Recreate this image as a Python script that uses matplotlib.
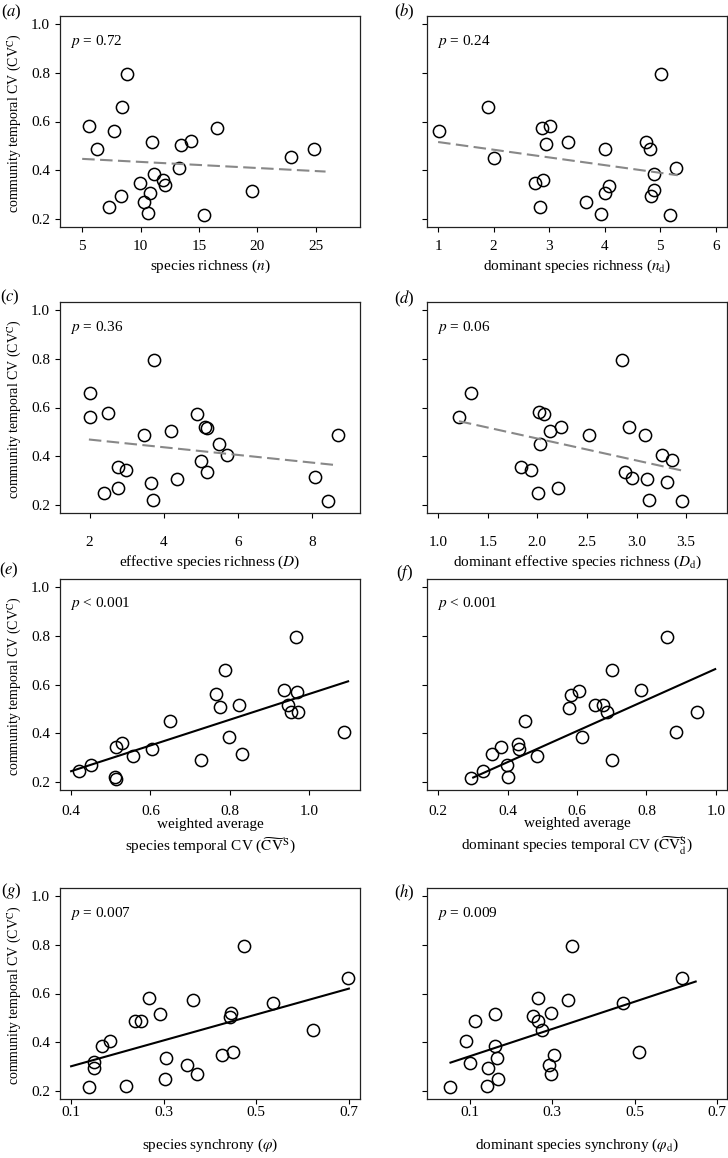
import numpy as np
import matplotlib
matplotlib.use("Agg")
import matplotlib.pyplot as plt
from matplotlib.ticker import FixedLocator, FixedFormatter

plt.rcParams['font.family'] = 'serif'
plt.rcParams['font.serif'] = ['Liberation Serif', 'DejaVu Serif']
plt.rcParams['mathtext.fontset'] = 'stix'

# ---------------- data ----------------
y_ticks = [0.2, 0.4, 0.6, 0.8, 1.0]
y_ticklabels = ['0.2', '0.4', '0.6', '0.8', '1.0']

a_x = [5.6, 6.28, 7.31, 7.71, 8.33, 8.45, 8.87, 9.93, 10.3, 10.81, 10.64, 10.98, 11.15, 11.92, 12.12, 13.29, 13.46, 14.34, 15.43, 16.51, 19.56, 22.89, 24.89]
a_y = [0.580, 0.487, 0.248, 0.561, 0.293, 0.661, 0.795, 0.347, 0.271, 0.308, 0.226, 0.518, 0.385, 0.360, 0.340, 0.408, 0.505, 0.521, 0.219, 0.575, 0.315, 0.454, 0.487]
a_fit_x = [5.0, 25.85]
a_fit_y = [0.447, 0.395]

b_x = [1.01, 1.89, 2.00, 2.75, 2.88, 2.87, 3.01, 2.94, 2.84, 3.33, 3.67, 3.94, 4.01, 4.00, 4.07, 4.74, 4.81, 4.88, 4.88, 4.84, 5.01, 5.17, 5.28]
b_y = [0.562, 0.661, 0.452, 0.347, 0.360, 0.573, 0.580, 0.506, 0.248, 0.518, 0.271, 0.223, 0.488, 0.308, 0.337, 0.518, 0.488, 0.387, 0.318, 0.293, 0.795, 0.219, 0.408]
b_fit_x = [1.0, 5.31]
b_fit_y = [0.516, 0.380]

c_x = [2.0, 2.0, 2.49, 2.40, 2.76, 2.98, 2.76, 3.47, 3.74, 3.66, 3.72, 4.20, 4.35, 4.91, 5.11, 5.17, 5.02, 5.16, 5.49, 5.72, 8.08, 8.44, 8.71]
c_y = [0.660, 0.561, 0.579, 0.248, 0.358, 0.344, 0.269, 0.488, 0.794, 0.292, 0.222, 0.505, 0.306, 0.572, 0.520, 0.517, 0.382, 0.334, 0.452, 0.407, 0.314, 0.218, 0.487]
c_fit_x = [1.98, 8.6]
c_fit_y = [0.469, 0.365]

d_x = [1.211, 1.328, 2.015, 2.066, 2.123, 2.243, 2.032, 1.838, 1.932, 2.009, 2.207, 2.518, 2.857, 2.927, 3.081, 2.883, 2.951, 3.105, 3.128, 3.255, 3.362, 3.305, 3.456]
d_y = [0.562, 0.661, 0.580, 0.573, 0.504, 0.520, 0.452, 0.358, 0.346, 0.248, 0.269, 0.488, 0.796, 0.520, 0.489, 0.335, 0.313, 0.307, 0.222, 0.407, 0.385, 0.294, 0.218]
d_fit_x = [1.21, 3.49]
d_fit_y = [0.544, 0.339]

e_x = [0.420, 0.450, 0.510, 0.514, 0.514, 0.529, 0.557, 0.603, 0.648, 0.727, 0.764, 0.776, 0.789, 0.799, 0.823, 0.831, 0.937, 0.946, 0.953, 0.969, 0.972, 0.966, 1.088]
e_y = [0.245, 0.269, 0.221, 0.215, 0.346, 0.360, 0.307, 0.335, 0.452, 0.291, 0.561, 0.506, 0.660, 0.383, 0.517, 0.314, 0.579, 0.517, 0.486, 0.571, 0.486, 0.795, 0.407]
e_fit_x = [0.40, 1.098]
e_fit_y = [0.245, 0.613]

f_x = [0.295, 0.330, 0.354, 0.380, 0.399, 0.401, 0.429, 0.434, 0.451, 0.484, 0.576, 0.584, 0.605, 0.613, 0.652, 0.675, 0.687, 0.702, 0.702, 0.785, 0.858, 0.885, 0.945]
f_y = [0.218, 0.245, 0.314, 0.346, 0.270, 0.222, 0.356, 0.335, 0.452, 0.307, 0.504, 0.559, 0.575, 0.385, 0.518, 0.518, 0.488, 0.660, 0.291, 0.579, 0.795, 0.407, 0.488]
f_fit_x = [0.301, 0.998]
f_fit_y = [0.219, 0.663]

g_x = [0.138, 0.150, 0.150, 0.167, 0.184, 0.218, 0.238, 0.251, 0.269, 0.292, 0.302, 0.306, 0.351, 0.364, 0.373, 0.426, 0.446, 0.444, 0.449, 0.474, 0.536, 0.622, 0.697]
g_y = [0.218, 0.318, 0.293, 0.383, 0.404, 0.222, 0.488, 0.488, 0.580, 0.518, 0.248, 0.337, 0.307, 0.574, 0.271, 0.347, 0.521, 0.505, 0.360, 0.794, 0.561, 0.452, 0.662]
g_fit_x = [0.10, 0.70]
g_fit_y = [0.302, 0.620]

h_x = [0.051, 0.090, 0.100, 0.113, 0.142, 0.145, 0.160, 0.161, 0.165, 0.169, 0.254, 0.266, 0.266, 0.275, 0.296, 0.292, 0.298, 0.305, 0.339, 0.349, 0.472, 0.510, 0.616]
h_y = [0.218, 0.407, 0.315, 0.488, 0.222, 0.293, 0.518, 0.385, 0.337, 0.248, 0.507, 0.581, 0.488, 0.451, 0.521, 0.308, 0.271, 0.347, 0.574, 0.796, 0.561, 0.360, 0.662]
h_fit_x = [0.053, 0.648]
h_fit_y = [0.317, 0.649]

p_labels = ['$p$ = 0.72', '$p$ = 0.24', '$p$ = 0.36', '$p$ = 0.06',
            '$p$ < 0.001', '$p$ < 0.001', '$p$ = 0.007', '$p$ = 0.009']
x_labels = ['species richness ($n$)',
            'dominant species richness ($n_{\\mathrm{d}}$)',
            'effective species richness ($D$)',
            'dominant effective species richness ($D_{\\mathrm{d}}$)',
            'weighted average\nspecies temporal CV ($\\widetilde{\\mathrm{CV}}^{\\mathrm{S}}$)',
            'weighted average\ndominant species temporal CV ($\\widetilde{\\mathrm{CV}}^{\\mathrm{S}}_{\\mathrm{d}}$)',
            'species synchrony ($\\varphi$)',
            'dominant species synchrony ($\\varphi_{\\mathrm{d}}$)']
x_ticks = [[5, 10, 15, 20, 25], [1, 2, 3, 4, 5, 6], [2, 4, 6, 8],
           [1.0, 1.5, 2.0, 2.5, 3.0, 3.5], [0.4, 0.6, 0.8, 1.0],
           [0.2, 0.4, 0.6, 0.8, 1.0], [0.1, 0.3, 0.5, 0.7], [0.1, 0.3, 0.5, 0.7]]
x_ticklabels = [['5', '10', '15', '20', '25'], ['1', '2', '3', '4', '5', '6'],
                ['2', '4', '6', '8'], ['1.0', '1.5', '2.0', '2.5', '3.0', '3.5'],
                ['0.4', '0.6', '0.8', '1.0'], ['0.2', '0.4', '0.6', '0.8', '1.0'],
                ['0.1', '0.3', '0.5', '0.7'], ['0.1', '0.3', '0.5', '0.7']]
panel_letters = ['a', 'b', 'c', 'd', 'e', 'f', 'g', 'h']
y_label = 'community temporal CV (CV$^{\\mathrm{C}}$)'

# ---------------- layout ----------------
W, H = 728, 1158
fig = plt.figure(figsize=(W / 100, H / 100), dpi=100)

xs = [a_x, b_x, c_x, d_x, e_x, f_x, g_x, h_x]
ys = [a_y, b_y, c_y, d_y, e_y, f_y, g_y, h_y]
fxs = [a_fit_x, b_fit_x, c_fit_x, d_fit_x, e_fit_x, f_fit_x, g_fit_x, h_fit_x]
fys = [a_fit_y, b_fit_y, c_fit_y, d_fit_y, e_fit_y, f_fit_y, g_fit_y, h_fit_y]
dashed = [True, True, True, True, False, False, False, False]
xlims = [(3.1, 28.8), (0.8, 6.2), (1.2, 9.3), (0.888, 3.912),
         (0.372, 1.128), (0.168, 1.032), (0.076, 0.724), (-0.004, 0.724)]
ylim = (0.168, 1.032)

col_left = [60, 427]
row_bottom = [227, 513, 790, 1099]
ax_w, ax_h = 300, 211
tick_pad_px = [8, 18, 10, 2]          # per row
xlabel_off_px = [39, 49, 47, 46]      # per row, center offset below axes
letter_pos = [(11, 12), (404, 12), (10, 297), (404, 299),
              (9, 570), (405, 573), (11, 891), (404, 893)]

FS = 11
for i in range(8):
    r, c = divmod(i, 2)
    left = col_left[c] / W
    bottom = 1 - row_bottom[r] / H
    ax = fig.add_axes([left, bottom, ax_w / W, ax_h / H])
    ls = (0, (6, 2.6)) if dashed[i] else '-'
    col = '#888888' if dashed[i] else 'black'
    ax.plot(xs[i], ys[i], 'o', ms=8.8, mfc='none', mec='black', mew=1.1,
            zorder=2)
    ax.plot(fxs[i], fys[i], linestyle=ls, color=col, lw=1.5, zorder=3)
    ax.set_xlim(*xlims[i])
    ax.set_ylim(*ylim)
    ax.xaxis.set_major_locator(FixedLocator(x_ticks[i]))
    ax.xaxis.set_major_formatter(FixedFormatter(x_ticklabels[i]))
    ax.yaxis.set_major_locator(FixedLocator(y_ticks))
    if c == 0:
        ax.yaxis.set_major_formatter(FixedFormatter(y_ticklabels))
        ax.set_ylabel(y_label, fontsize=10)
        ax.yaxis.set_label_coords(-45 / ax_w, 0.49)
        ax.yaxis.label.set_va('center')
    else:
        ax.yaxis.set_major_formatter(FixedFormatter([''] * len(y_ticks)))
    ax.tick_params(axis='both', direction='out', length=3.6, width=0.8,
                   labelsize=FS, color='black')
    ax.tick_params(axis='y', pad=3.6)
    ax.tick_params(axis='x', pad=tick_pad_px[r] * 0.72)
    for sp in ax.spines.values():
        sp.set_linewidth(0.9)
        sp.set_color('#222222')
    ax.set_xlabel(x_labels[i], fontsize=FS, linespacing=1.3)
    ax.xaxis.set_label_coords(0.5, -xlabel_off_px[r] / ax_h)
    ax.xaxis.label.set_va('center')
    ax.text(10 / ax_w, 1 - 25 / ax_h, p_labels[i], transform=ax.transAxes,
            ha='left', va='center', fontsize=FS)
    lx, ly = letter_pos[i]
    fig.text(lx / W, 1 - ly / H, '(' + '$' + panel_letters[i] + '$' + ')',
             ha='center', va='center', fontsize=12)

fig.savefig('out.png', dpi=100)
